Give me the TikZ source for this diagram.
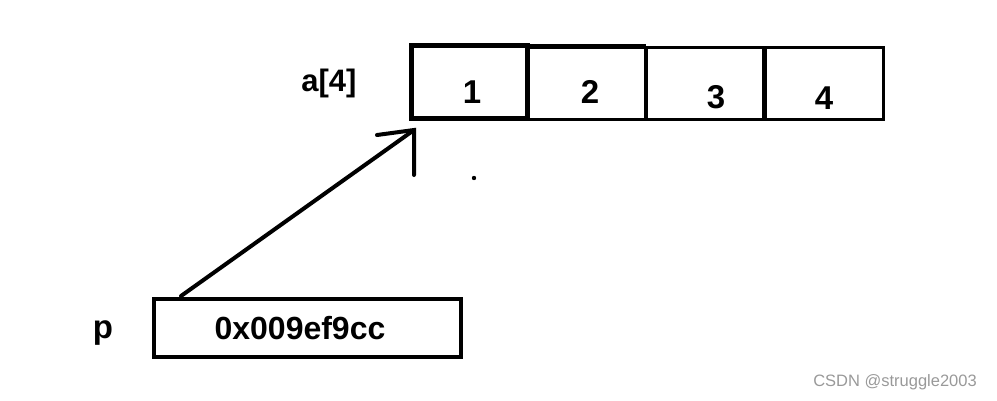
\documentclass[tikz,border=0pt]{standalone}
\usepackage{fontspec}
\setmainfont{Liberation Sans}
\begin{document}
\begin{tikzpicture}[x=1pt,y=-1pt,
  lbl/.style={font=\fontsize{33}{36}\selectfont\bfseries, inner sep=0pt},
  stroke/.style={line width=4pt, line cap=round},
  cellbox/.style={draw, line width=3pt, minimum width=118pt, minimum height=72pt, inner sep=0pt, outer sep=0pt}]
\useasboundingbox (0,0) rectangle (997,400);
% array
\node[cellbox] (c2) at (587,83) {};
\node[cellbox] (c3) at (704,83) {};
\node[cellbox] (c4) at (824.5,83) {};
\node[draw, line width=5pt, minimum width=116pt, minimum height=73pt, inner sep=0pt, outer sep=0pt] (c1) at (469,82) {};
\draw[line width=4pt] (c1.north west) -- (c1.north west -| c2.north east);
\node[lbl] (n1) at (472,92) {1};
\node[lbl] (n2) at (590,92) {2};
\node[lbl] (n3) at (716,97) {3};
\node[lbl] (n4) at (824,98) {4};
\node[lbl, font=\fontsize{31}{36}\selectfont\bfseries] (a) at (329,83) {a[4]};
% pointer
\node[draw, line width=4pt, minimum width=307pt, minimum height=58pt, inner sep=0pt] (pbox) at (307.5,328) {};
\node[lbl, font=\fontsize{32}{36}\selectfont\bfseries] (pval) at (300,328) {0x009ef9cc};
\node[lbl] (p) at (103,333) {p};
\coordinate (tip) at (414,130);
\coordinate (foot) at (181,296);
\coordinate (barbA) at (377,135);
\coordinate (barbB) at (414,175);
\draw[stroke] (foot) -- (tip);
\draw[stroke] (barbA) -- (tip) -- (barbB);
\fill (474,178) circle (2.2pt);
\node[font=\fontsize{16.5}{18}\selectfont, text=gray!80, inner sep=0pt] (wm) at (895,382) {CSDN @struggle2003};
\end{tikzpicture}
\end{document}
